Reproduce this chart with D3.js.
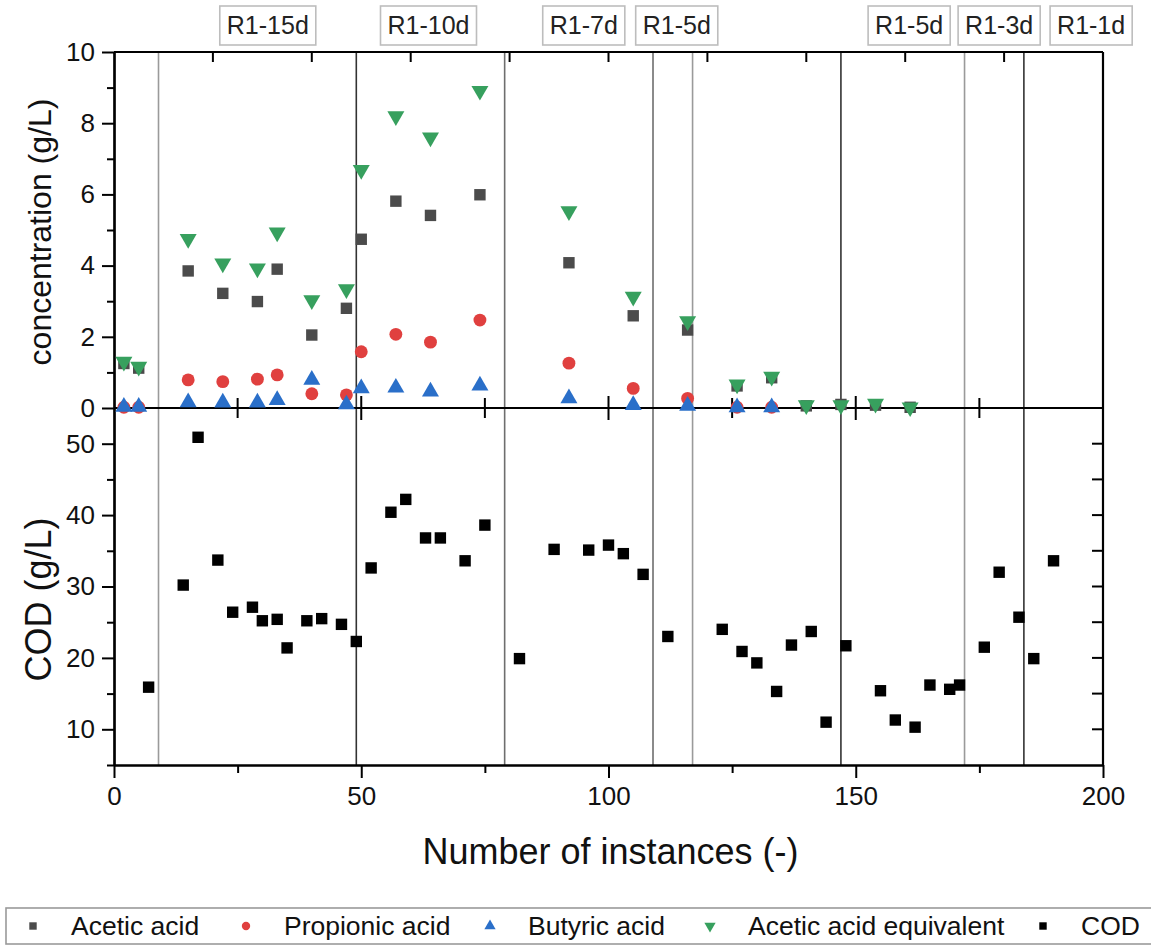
<!DOCTYPE html>
<html>
<head>
<meta charset="utf-8">
<script src="https://cdn.jsdelivr.net/npm/d3@7"></script>
<style>
  body { margin: 0; background: #fff; }
  text { font-family: "Liberation Sans", Arial, sans-serif; }
</style>
</head>
<body>
<svg id="chart" width="1151" height="946"></svg>
<script>
// ---- acid measurements (g/L) ----
const acidInstances = [2, 5, 15, 22, 29, 33, 40, 47, 50, 57, 64, 74, 92, 105, 116, 126, 133, 140, 147, 154, 161];
const aceticAcid    = [1.25, 1.12, 3.85, 3.22, 2.99, 3.90, 2.05, 2.80, 4.74, 5.81, 5.41, 5.99, 4.08, 2.59, 2.19, 0.62, 0.85, 0.06, 0.10, 0.08, 0.02];
const propionicAcid = [0.02, 0.02, 0.79, 0.74, 0.81, 0.93, 0.40, 0.37, 1.58, 2.07, 1.85, 2.47, 1.26, 0.55, 0.27, 0.02, 0.02, null, null, null, null];
const butyricAcid   = [0.03, 0.03, 0.16, 0.15, 0.15, 0.22, 0.79, 0.10, 0.55, 0.57, 0.46, 0.63, 0.27, 0.08, 0.06, 0.02, 0.02, null, null, null, null];
const aceticEquiv   = [1.30, 1.16, 4.75, 4.06, 3.92, 4.93, 3.03, 3.34, 6.69, 8.20, 7.60, 8.91, 5.53, 3.13, 2.44, 0.66, 0.88, 0.08, 0.08, 0.12, 0.02];

// ---- COD measurements (g/L) ----
const codInstances = [7, 14, 17, 21, 24, 28, 30, 33, 35, 39, 42, 46, 49, 52, 56, 59, 63, 66, 71, 75, 82, 89, 96, 100, 103, 107, 112,
                      123, 127, 130, 134, 137, 141, 144, 148, 155, 158, 162, 165, 169, 171, 176, 179, 183, 186, 190];
const codValues    = [15.9, 30.2, 50.9, 33.7, 26.4, 27.1, 25.2, 25.4, 21.4, 25.2, 25.5, 24.7, 22.3, 32.6, 40.4, 42.2, 36.8, 36.8, 33.6, 38.6, 19.9,
                      35.2, 35.1, 35.8, 34.6, 31.7, 23.0, 24.0, 20.9, 19.3, 15.3, 21.8, 23.7, 11.0, 21.7, 15.4, 11.3, 10.3, 16.2, 15.6, 16.2,
                      21.5, 32.0, 25.7, 19.9, 33.6];

// ---- operating phase boundaries and labels ----
const phaseBoundaries = [9, 49, 79, 109, 117, 147, 172, 184];
const boundaryShade   = ["light", "dark", "mid", "mid", "light", "dark", "light", "dark"];
const phaseLabels     = ["R1-15d", "R1-10d", "R1-7d", "R1-5d", "R1-5d", "R1-3d", "R1-1d"];
const phaseLabelAt    = [31.1, 63.6, 95.0, 113.8, 160.8, 179.0, 197.6];

// ---- axis ticks ----
const xTicks      = [0, 50, 100, 150, 200];
const concTicks   = [0, 2, 4, 6, 8, 10];
const codTicks    = [10, 20, 30, 40, 50];

const svg = d3.select("#chart");
const L = 114, R = 1103, T = 52, M = 408, B = 765;

const x = d3.scaleLinear().domain([0, 200]).range([L, R]);
const yC = d3.scaleLinear().domain([0, 10]).range([M, T]);
const yD = d3.scaleLinear().domain([5, 55]).range([B, M]);

const shadeColor = { light: "#9a9a9a", mid: "#6e6e6e", dark: "#333333" };
const colors = { acetic: "#4b4b4b", propionic: "#e0403f", butyric: "#2a6fc9", equiv: "#37a05e", cod: "#000000" };

// phase boundary lines spanning both panels
svg.append("g").selectAll("line").data(phaseBoundaries).join("line")
  .attr("x1", d => x(d)).attr("x2", d => x(d))
  .attr("y1", T).attr("y2", B)
  .attr("stroke", (d, i) => shadeColor[boundaryShade[i]])
  .attr("stroke-width", 1.6);

// phase label boxes above the plot
const lab = svg.append("g");
phaseLabels.forEach((t, i) => {
  const g = lab.append("g").attr("transform", `translate(${x(phaseLabelAt[i])},25)`);
  const txt = g.append("text").attr("text-anchor", "middle").attr("dy", "0.36em")
    .attr("font-size", 25).attr("fill", "#222").text(t);
  const w = txt.node().getComputedTextLength() + 14;
  g.insert("rect", "text").attr("x", -w / 2).attr("y", -19).attr("width", w).attr("height", 39)
    .attr("fill", "#fff").attr("stroke", "#bdbdbd").attr("stroke-width", 1.6);
});

// axes
const axisStyle = g => {
  g.selectAll("path.domain").attr("stroke", "#000").attr("stroke-width", 2.2);
  g.selectAll(".tick line").attr("stroke", "#000").attr("stroke-width", 2);
  g.selectAll(".tick text").attr("font-size", 26).attr("fill", "#111").attr("font-family", '"Liberation Sans", Arial, sans-serif');
};

// bottom x-axis: major + minor
svg.append("g").attr("transform", `translate(0,${B})`)
  .call(d3.axisBottom(x).tickValues(xTicks).tickSize(13).tickPadding(9).tickSizeOuter(0))
  .call(axisStyle);
svg.append("g").attr("transform", `translate(0,${B})`)
  .call(d3.axisBottom(x).tickValues([25, 75, 125, 175]).tickSize(8).tickFormat("").tickSizeOuter(0))
  .call(axisStyle);

// panel separator axis with crossing ticks
const sepAxis = svg.append("g");
sepAxis.append("line").attr("x1", L).attr("x2", R).attr("y1", M).attr("y2", M).attr("stroke", "#000").attr("stroke-width", 2.2);
sepAxis.selectAll("line.tk").data(d3.range(25, 200, 25)).join("line").attr("class", "tk")
  .attr("x1", d => x(d)).attr("x2", d => x(d))
  .attr("y1", d => M - (d % 50 === 0 ? 12 : 10)).attr("y2", d => M + (d % 50 === 0 ? 12 : 10))
  .attr("stroke", "#000").attr("stroke-width", 2);

// top axis with inward ticks every 20
const topAxis = svg.append("g");
topAxis.append("line").attr("x1", L).attr("x2", R).attr("y1", T).attr("y2", T).attr("stroke", "#000").attr("stroke-width", 2.2);
topAxis.selectAll("line.tk").data(d3.range(20, 200, 20)).join("line").attr("class", "tk")
  .attr("x1", d => x(d)).attr("x2", d => x(d)).attr("y1", T).attr("y2", T + 10)
  .attr("stroke", "#000").attr("stroke-width", 2);

// right spine with inward ticks on the COD panel
const rightAxis = svg.append("g");
rightAxis.append("line").attr("x1", R).attr("x2", R).attr("y1", T).attr("y2", B).attr("stroke", "#000").attr("stroke-width", 2.2);
rightAxis.selectAll("line.tk").data(d3.range(10, 55, 5)).join("line").attr("class", "tk")
  .attr("x1", R - 11).attr("x2", R).attr("y1", d => yD(d)).attr("y2", d => yD(d))
  .attr("stroke", "#000").attr("stroke-width", 2);

// left axes
svg.append("g").attr("transform", `translate(${L},0)`)
  .call(d3.axisLeft(yC).tickValues(concTicks).tickSize(12).tickPadding(7).tickSizeOuter(0))
  .call(axisStyle);
svg.append("g").attr("transform", `translate(${L},0)`)
  .call(d3.axisLeft(yC).tickValues([1, 3, 5, 7, 9]).tickSize(7).tickFormat("").tickSizeOuter(0))
  .call(axisStyle);
svg.append("g").attr("transform", `translate(${L},0)`)
  .call(d3.axisLeft(yD).tickValues(codTicks).tickSize(12).tickPadding(7).tickSizeOuter(0))
  .call(axisStyle);
svg.append("g").attr("transform", `translate(${L},0)`)
  .call(d3.axisLeft(yD).tickValues([5, 15, 25, 35, 45]).tickSize(7).tickFormat("").tickSizeOuter(0))
  .call(axisStyle);

// axis titles
svg.append("text").attr("transform", `translate(40,${(T + M) / 2 + 2}) rotate(-90)`)
  .attr("text-anchor", "middle").attr("dy", "0.35em").attr("font-size", 32).attr("fill", "#111")
  .text("concentration (g/L)");
svg.append("text").attr("transform", `translate(38,${(M + B) / 2 + 13}) rotate(-90)`)
  .attr("text-anchor", "middle").attr("dy", "0.35em").attr("font-size", 36).attr("fill", "#111")
  .text("COD (g/L)");
svg.append("text").attr("x", (L + R) / 2 + 2).attr("y", 851).attr("dy", "0.35em")
  .attr("text-anchor", "middle").attr("font-size", 36).attr("fill", "#111")
  .text("Number of instances (-)");

// markers
const sym = {
  square: d3.symbol().type(d3.symbolSquare).size(130),
  circle: d3.symbol().type(d3.symbolCircle).size(130),
  up: d3.symbol().type(d3.symbolTriangle).size(125),
};

function plotSeries(xs, ys, yScale, shape, color, flip) {
  const pts = xs.map((t, i) => ({ t, v: ys[i] })).filter(d => d.v !== null);
  svg.append("g").selectAll("path").data(pts).join("path")
    .attr("d", sym[shape]())
    .attr("transform", d => `translate(${x(d.t)},${yScale(d.v)})${flip ? " rotate(180)" : ""}`)
    .attr("fill", color);
}

plotSeries(acidInstances, aceticAcid, yC, "square", colors.acetic, false);
plotSeries(acidInstances, propionicAcid, yC, "circle", colors.propionic, false);
plotSeries(acidInstances, butyricAcid, yC, "up", colors.butyric, false);
plotSeries(acidInstances, aceticEquiv, yC, "up", colors.equiv, true);
plotSeries(codInstances, codValues, yD, "square", colors.cod, false);

// legend
const legendItems = [
  { name: "Acetic acid", shape: "square", color: colors.acetic, flip: false, at: 33 },
  { name: "Propionic acid", shape: "circle", color: colors.propionic, flip: false, at: 246 },
  { name: "Butyric acid", shape: "up", color: colors.butyric, flip: false, at: 490 },
  { name: "Acetic acid equivalent", shape: "up", color: colors.equiv, flip: true, at: 710 },
  { name: "COD", shape: "square", color: colors.cod, flip: false, at: 1043 },
];
const lg = svg.append("g");
lg.append("rect").attr("x", 6).attr("y", 908).attr("width", 1160).attr("height", 36)
  .attr("fill", "#fff").attr("stroke", "#9a9a9a").attr("stroke-width", 1.6);
legendItems.forEach(it => {
  lg.append("path").attr("d", d3.symbol().type(it.shape === "square" ? d3.symbolSquare : it.shape === "circle" ? d3.symbolCircle : d3.symbolTriangle).size(55)())
    .attr("transform", `translate(${it.at},926)${it.flip ? " rotate(180)" : ""}`).attr("fill", it.color);
  lg.append("text").attr("x", it.at + 38).attr("y", 926).attr("dy", "0.35em")
    .attr("font-size", 26.5).attr("fill", "#111").text(it.name);
});
</script>
</body>
</html>
